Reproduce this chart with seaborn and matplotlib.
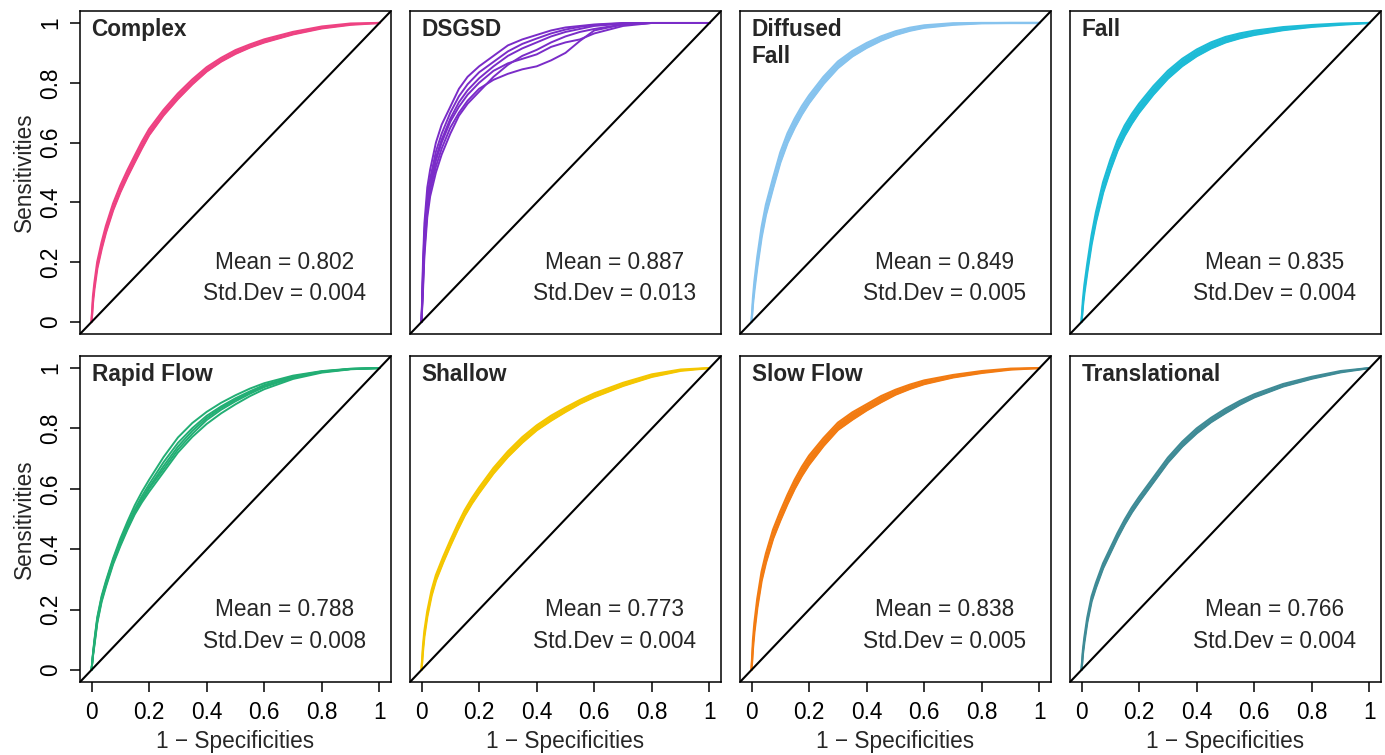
import numpy as np
import pandas as pd
import matplotlib
matplotlib.use("Agg")
import matplotlib.pyplot as plt
import seaborn as sns

# ---------------- data ----------------
PANELS = ["Complex", "DSGSD", "Diffused\nFall", "Fall",
          "Rapid Flow", "Shallow", "Slow Flow", "Translational"]
MEANS = ["0.802", "0.887", "0.849", "0.835", "0.788", "0.773", "0.838", "0.766"]
STDS = ["0.004", "0.013", "0.005", "0.004", "0.008", "0.004", "0.005", "0.004"]
COLORS = ["#EE4282", "#7A2CC8", "#86C3EE", "#1DBBD6",
          "#22AE74", "#F4C600", "#F27B12", "#3F8B96"]

TICKS = [0, 0.2, 0.4, 0.6, 0.8, 1]
TICK_LABELS = ["0", "0.2", "0.4", "0.6", "0.8", "1"]

FPR = [0, 0.005, 0.01, 0.02, 0.035, 0.05, 0.075, 0.1, 0.125, 0.15, 0.175, 0.2,
       0.25, 0.3, 0.35, 0.4, 0.45, 0.5, 0.55, 0.6, 0.7, 0.8, 0.9, 1.0]

COMPLEX_LO = [0, .065, .11, .179, .244, .299, .374, .434, .486, .534, .581, .625, .691, .746, .795, .838, .871, .897, .918, .935, .962, .982, .994, 1]
COMPLEX_HI = [0, .085, .13, .201, .266, .321, .396, .456, .508, .556, .603, .645, .709, .764, .811, .852, .883, .909, .928, .945, .970, .988, .998, 1]

DIFF_LO = [0, .06, .105, .183, .283, .358, .448, .533, .599, .65, .694, .732, .796, .849, .888, .917, .941, .96, .974, .984, .994, .999, 1, 1]
DIFF_HI = [0, .08, .135, .217, .317, .392, .482, .567, .631, .68, .722, .758, .82, .871, .906, .933, .955, .972, .984, .992, .999, 1, 1, 1]

FALL_LO = [0, .055, .097, .166, .26, .334, .433, .508, .573, .623, .664, .70, .761, .814, .856, .889, .915, .935, .949, .96, .976, .987, .994, 1]
FALL_HI = [0, .075, .123, .194, .29, .366, .467, .542, .607, .657, .696, .73, .789, .84, .88, .911, .935, .953, .965, .974, .986, .993, .998, 1]

RAPID_1 = [0, .055, .10, .175, .245, .295, .37, .435, .492, .545, .59, .63, .705, .77, .818, .855, .885, .91, .932, .95, .975, .99, .998, 1]
RAPID_2 = [0, .05, .09, .165, .235, .285, .36, .42, .475, .525, .567, .605, .675, .74, .792, .835, .868, .895, .919, .94, .97, .988, .997, 1]
RAPID_3 = [0, .045, .08, .155, .225, .275, .35, .41, .465, .515, .555, .59, .655, .72, .772, .815, .85, .88, .907, .93, .964, .985, .996, 1]
RAPID_4 = [0, .048, .085, .16, .23, .28, .355, .415, .47, .52, .562, .60, .665, .73, .782, .828, .862, .89, .915, .937, .968, .987, .997, 1]
RAPID_5 = [0, .052, .095, .17, .24, .29, .365, .428, .482, .532, .576, .615, .688, .752, .801, .842, .873, .90, .923, .944, .972, .989, .997, 1]

SHALLOW_LO = [0, .062, .111, .176, .246, .296, .356, .411, .463, .511, .551, .586, .651, .706, .753, .794, .826, .855, .882, .904, .941, .971, .991, 1]
SHALLOW_HI = [0, .078, .129, .194, .264, .314, .374, .429, .481, .529, .569, .604, .669, .724, .771, .81, .842, .869, .894, .916, .951, .979, .995, 1]

SLOW_LO = [0, .072, .125, .205, .295, .355, .435, .495, .55, .60, .643, .68, .742, .795, .829, .86, .887, .912, .931, .947, .969, .984, .995, 1]
SLOW_HI = [0, .098, .155, .235, .325, .385, .465, .525, .58, .63, .673, .71, .768, .819, .853, .88, .907, .928, .945, .959, .977, .99, .998, 1]

TRANS_LO = [0, .054, .092, .157, .227, .272, .337, .387, .437, .482, .522, .557, .622, .687, .740, .784, .821, .851, .879, .903, .939, .965, .986, 1]
TRANS_HI = [0, .066, .108, .173, .243, .288, .353, .403, .453, .498, .538, .573, .638, .703, .756, .80, .835, .865, .891, .913, .947, .971, .99, 1]

FPR_DSGSD = [0, .005, .01, .02, .03, .05, .07, .1, .13, .16, .2, .25, .3, .35,
             .4, .45, .5, .55, .6, .7, .8, 1.0]
DSGSD_1 = [0, .20, .33, .45, .51, .60, .66, .72, .78, .82, .855, .89, .925, .945, .96, .975, .985, .99, .995, 1, 1, 1]
DSGSD_2 = [0, .15, .28, .40, .46, .55, .61, .68, .735, .775, .815, .855, .89, .915, .935, .955, .97, .98, .99, .998, 1, 1]
DSGSD_3 = [0, .10, .22, .35, .42, .50, .56, .63, .69, .73, .77, .82, .86, .89, .91, .935, .955, .97, .98, .995, 1, 1]
DSGSD_4 = [0, .12, .24, .37, .44, .52, .58, .65, .70, .74, .78, .81, .83, .845, .855, .875, .90, .94, .975, .995, 1, 1]
DSGSD_5 = [0, .14, .26, .39, .45, .54, .60, .67, .72, .76, .80, .84, .865, .88, .895, .92, .935, .945, .965, .99, 1, 1]
DSGSD_6 = [0, .17, .30, .42, .48, .57, .63, .70, .755, .795, .835, .87, .905, .93, .948, .965, .978, .987, .993, .999, 1, 1]

# ---------------- figure ----------------
sns.set_theme(style="white")
plt.rcParams["font.family"] = ["Liberation Sans", "DejaVu Sans"]
plt.rcParams["axes.linewidth"] = 1.1

W, H = 1385, 755
fig = plt.figure(figsize=(W / 100, H / 100), dpi=100)

col_left = [80, 410, 740, 1070]
row_top = [11, 356]
row_bot = [334, 682]

curves = [
    (FPR, [COMPLEX_LO, COMPLEX_HI], True),
    (FPR_DSGSD, [DSGSD_1, DSGSD_2, DSGSD_3, DSGSD_4, DSGSD_5, DSGSD_6], False),
    (FPR, [DIFF_LO, DIFF_HI], True),
    (FPR, [FALL_LO, FALL_HI], True),
    (FPR, [RAPID_1, RAPID_2, RAPID_3, RAPID_4, RAPID_5], False),
    (FPR, [SHALLOW_LO, SHALLOW_HI], True),
    (FPR, [SLOW_LO, SLOW_HI], True),
    (FPR, [TRANS_LO, TRANS_HI], True),
]

FS = 16.3
for i, name in enumerate(PANELS):
    r, c = divmod(i, 4)
    left = col_left[c] / W
    width = 311 / W
    bottom = (H - row_bot[r]) / H
    height = (row_bot[r] - row_top[r]) / H
    ax = fig.add_axes([left, bottom, width, height])

    xs, reps, band = curves[i]
    rows = []
    for k, tpr in enumerate(reps):
        for x, y in zip(xs, tpr):
            rows.append({"fpr": x, "tpr": y, "rep": k})
    df = pd.DataFrame(rows)
    color = COLORS[i]
    if band:
        ax.fill_between(xs, reps[0], reps[-1], color=color, lw=0, zorder=1)
        lw = 1.6
    else:
        lw = 1.4
    sns.lineplot(data=df, x="fpr", y="tpr", units="rep", estimator=None,
                 color=color, lw=lw, ax=ax, legend=False, zorder=2)

    ax.axline((0, 0), slope=1, color="black", lw=1.5, zorder=3)
    ax.set_xlim(-0.04, 1.04)
    ax.set_ylim(-0.04, 1.04)
    for s in ax.spines.values():
        s.set_color("black")
        s.set_linewidth(1.1)

    ax.set_xlabel("")
    ax.set_ylabel("")
    ax.tick_params(length=0, labelsize=FS, colors="black")
    if r == 1:
        ax.set_xticks(TICKS)
        ax.set_xticklabels(TICK_LABELS)
        ax.tick_params(axis="x", length=7, width=1.1, direction="out",
                       bottom=True, pad=7)
        ax.set_xlabel("1 \u2212 Specificities", fontsize=FS, labelpad=4)
    else:
        ax.set_xticks([])
    if c == 0:
        ax.set_yticks(TICKS)
        ax.set_yticklabels(TICK_LABELS, rotation=90, va="center")
        ax.tick_params(axis="y", length=7, width=1.1, direction="out",
                       left=True, pad=6)
        ax.set_ylabel("Sensitivities", fontsize=FS, labelpad=2)
    else:
        ax.set_yticks([])

    ax.text(0.0, 1.017, name, fontsize=FS, fontweight="bold", ha="left",
            va="top", linespacing=1.25, zorder=5)
    ax.text(0.67, 0.20, "Mean = " + MEANS[i], fontsize=FS, ha="center",
            va="center", zorder=5)
    ax.text(0.67, 0.095, "Std.Dev = " + STDS[i], fontsize=FS, ha="center",
            va="center", zorder=5)

fig.savefig("out.png", dpi=100)
